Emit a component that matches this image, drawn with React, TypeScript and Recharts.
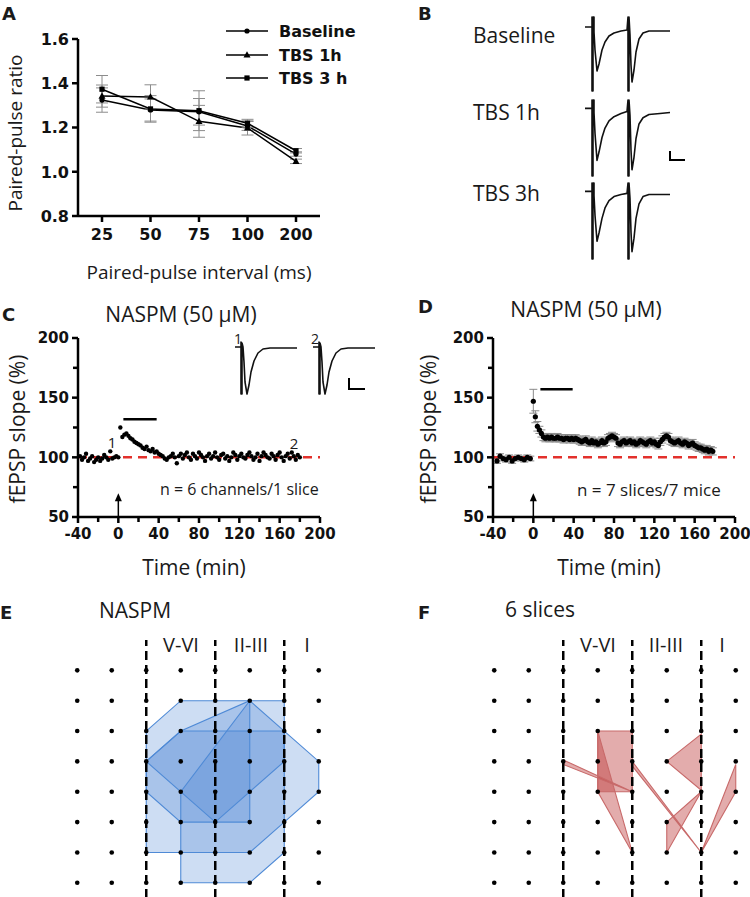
import React from 'react';
import {
  LineChart,
  Line,
  XAxis,
  YAxis,
  ErrorBar,
  ScatterChart,
  Scatter,
  ReferenceLine,
  ReferenceDot,
  ComposedChart,
  Area,
} from 'recharts';

const BOLD = '"DejaVu Sans", Arial, sans-serif';
const REG = '"Open Sans", sans-serif';

// ---- A: paired-pulse ratio
const ppIntervals = ['25', '50', '75', '100', '200'];
const ppBaseline = [1.324, 1.279, 1.271, 1.207, 1.08];
const ppBaselineSem = [0.055, 0.05, 0.06, 0.02, 0.01];
const ppTbs1h = [1.342, 1.338, 1.228, 1.198, 1.047];
const ppTbs1hSem = [0.05, 0.055, 0.072, 0.032, 0.01];
const ppTbs3h = [1.373, 1.284, 1.276, 1.219, 1.095];
const ppTbs3hSem = [0.062, 0.06, 0.09, 0.018, 0.01];
const ppTicks = [0.8, 1.0, 1.2, 1.4, 1.6];

// ---- B: example traces [time, amplitude]
const baselineTrace: [number, number][] = [
  [0, 3], [7, 3], [7, 13], [7, -61], [8, -61], [8, 13], [9, 13], [9, -2], [10, -20], [12, -41],
  [14, -34], [17, -20], [20, -12], [24, -6], [29, -3], [36, -1], [42, 0], [43, 13], [43, -61],
  [44, -61], [44, 13], [45, -5], [46, -35], [47, -52], [49, -40], [51, -22], [54, -9], [58, -3],
  [64, -1], [85, -1],
];
const tbs1hTrace: [number, number][] = [
  [0, 2], [7, 2], [7, 10], [7, -63], [8, -63], [8, 10], [9, 10], [9, -2], [10, -22], [12, -48],
  [14, -40], [17, -26], [20, -17], [24, -10], [29, -6], [36, -3], [42, -1], [43, 10], [43, -63],
  [44, -63], [44, 10], [45, -5], [46, -38], [47, -57], [49, -45], [51, -27], [54, -13], [58, -7],
  [64, -4], [75, -3], [85, -2],
];
const tbs3hTrace: [number, number][] = [
  [0, 2], [7, 2], [7, 10], [7, -63], [8, -63], [8, 10], [9, 10], [9, -2], [10, -21], [12, -46],
  [14, -38], [17, -24], [20, -14], [24, -7], [29, -3], [36, -1], [42, 0], [43, 10], [43, -63],
  [44, -63], [44, 10], [45, -5], [46, -37], [47, -56], [49, -43], [51, -24], [54, -10], [58, -3],
  [64, -1], [85, -1],
];
// inset traces in C (1 = before, 2 = after)
const insetTrace: [number, number][] = [
  [0, 0], [6, 0], [6, 5], [6, -47], [7, -47], [7, 4], [8, 0], [9, -15], [10, -35], [12, -47],
  [14, -38], [16, -25], [19, -14], [23, -6], [28, -2], [35, -1], [62, -1],
];

// ---- C: single slice, fEPSP slope (%) every 2 min
const cStepMin = 2;
const cPreStart = -38;
const cPreSlope = [101, 98, 100, 103, 97, 99, 101, 96, 98, 100, 97, 99, 102, 100, 98, 105, 99, 100, 101, 100];
const cPostStart = 2;
const cPostSlope = [
  125, 117, 119, 120, 118, 116, 115, 113, 112, 111,
  110, 108, 107, 109, 106, 105, 107, 104, 105, 103,
  102, 101, 99, 98, 100, 101, 103, 100, 95, 101,
  103, 99, 102, 104, 100, 98, 103, 101, 99, 104,
  102, 100, 97, 101, 103, 99, 101, 104, 100, 98,
  102, 103, 99, 101, 97, 100, 104, 102, 98, 101,
  103, 100, 99, 102, 104, 101, 98, 100, 103, 97,
  101, 104, 102, 100, 99, 103, 101, 98, 102, 104,
  100, 97, 101, 103, 99, 104, 101, 98, 102, 100,
];

// ---- D: 7 slices, mean +/- sem
const dPreTimes = [-36, -33, -30, -27, -24, -21, -18, -15, -12, -9, -6, -3];
const dPreSlope = [97, 101, 99, 98, 100, 97, 99, 100, 99, 98, 100, 99];
const dPreSem = 2;
const dStepMin = 2;
const dPostSlope = [
  147, 134, 126, 123, 120, 117, 116, 117, 116, 117,
  116, 116, 117, 116, 116, 115, 116, 116, 115, 116,
  115, 116, 115, 114, 113, 114, 115, 113, 112, 114,
  112, 113, 111, 112, 114, 112, 113, 116, 117, 118,
  117, 116, 112, 111, 113, 114, 112, 113, 114, 112,
  113, 111, 112, 114, 113, 112, 111, 113, 114, 112,
  113, 111, 110, 113, 115, 117, 118, 117, 114, 113,
  112, 113, 114, 112, 111, 113, 112, 110, 111, 112,
  110, 109, 108, 108, 107, 106, 107, 105, 106, 105,
];
const dPostSemHead = [10, 5, 4];
const dPostSem = 3;

const timeTicks = [-40, -20, 0, 20, 40, 60, 80, 100, 120, 140, 160, 180, 200];
const timeLabels = [-40, 0, 40, 80, 120, 160, 200];
const slopeTicks = [50, 75, 100, 125, 150, 175, 200];
const slopeLabels = [50, 100, 150, 200];

// ---- E / F: electrode grid (col, row) and response areas
const gridCols = [0, 1, 2, 3, 4, 5, 6, 7];
const gridRows = [0, 1, 2, 3, 4, 5, 6, 7];
const layerBorders = [2, 4, 6];
const naspmAreas: [number, number][][] = [
  [[2, 2], [3, 1], [5, 1], [6, 2], [7, 3], [7, 4], [6, 5], [5, 6], [2, 6]],
  [[3, 4], [5, 1], [6, 1], [6, 6], [5, 7], [3, 7]],
  [[2, 3], [3, 2], [6, 2], [6, 3], [4, 5]],
  [[2, 3], [3, 2], [5, 1], [5, 5], [3, 5], [2, 4]],
];
const sliceAreas: [number, number][][] = [
  [[3, 2], [4, 2], [4, 4], [3, 4]],
  [[3, 2], [4, 6], [3, 4]],
  [[2, 2.95], [4, 4], [2, 3.1]],
  [[5, 3], [6, 2.1], [6, 3.95]],
  [[4, 3], [6, 6], [4, 3.15]],
  [[5, 5], [6, 4], [5, 6]],
  [[6, 6], [7, 3.1], [7, 4]],
];

const axisStyle = { stroke: '#000', strokeWidth: 2.5 };

function makeYTick(labels: number[], size: number, fmt: (v: number) => string) {
  return (props: any) => {
    const { x, y, payload } = props;
    const major = labels.includes(payload.value);
    return (
      <g>
        <line x1={x - (major ? 6 : 5)} x2={x} y1={y} y2={y} stroke="#000" strokeWidth={2.5} />
        {major && (
          <text x={x - 9} y={y} dy="0.36em" textAnchor="end" fontFamily={BOLD} fontWeight={700} fontSize={size} fill="#111">
            {fmt(payload.value)}
          </text>
        )}
      </g>
    );
  };
}

function makeXTick(labels: (number | string)[] | null, size: number, base: number) {
  return (props: any) => {
    const { x, y, payload } = props;
    const major = labels === null || labels.includes(payload.value);
    return (
      <g>
        <line x1={x} x2={x} y1={y} y2={y + (major ? 6 : 5)} stroke="#000" strokeWidth={2.5} />
        {major && (
          <text x={x} y={y + base} textAnchor="middle" fontFamily={BOLD} fontWeight={700} fontSize={size} fill="#111">
            {payload.value}
          </text>
        )}
      </g>
    );
  };
}

type MarkerKind = 'circle' | 'triangle' | 'square';
const Marker = ({ kind, cx, cy }: { kind: MarkerKind; cx: number; cy: number }) => {
  if (kind === 'circle') return <circle cx={cx} cy={cy} r={2.6} fill="#000" />;
  if (kind === 'triangle')
    return <path d={`M${cx},${cy - 3.8} L${cx + 3.5},${cy + 2.6} L${cx - 3.5},${cy + 2.6} Z`} fill="#000" />;
  return <rect x={cx - 2.6} y={cy - 2.6} width={5.2} height={5.2} fill="#000" />;
};

type TxtProps = {
  x: number;
  y: number;
  size: number;
  bold?: boolean;
  center?: boolean;
  rotate?: boolean;
  children: React.ReactNode;
};
const Txt = ({ x, y, size, bold, center, rotate, children }: TxtProps) => (
  <div
    style={{
      position: 'absolute',
      left: x,
      top: y,
      fontFamily: bold ? BOLD : REG,
      fontWeight: bold ? 700 : 400,
      fontSize: size,
      lineHeight: 1,
      whiteSpace: 'nowrap',
      color: '#1a1a1a',
      transform: `translate(${center || rotate ? '-50%' : '0'}, -50%)${rotate ? ' rotate(-90deg)' : ''}`,
    }}
  >
    {children}
  </div>
);

const ScaleBar = ({ x, y, w, h }: { x: number; y: number; w: number; h: number }) => (
  <div
    style={{
      position: 'absolute',
      left: x,
      top: y,
      width: w,
      height: h,
      borderLeft: '2px solid #000',
      borderBottom: '2px solid #000',
    }}
  />
);

function Trace({ points, left, top, width, height, xMax, yMin, yMax }: any) {
  const data = (points as [number, number][]).map(([t, v]) => ({ t, v }));
  return (
    <div style={{ position: 'absolute', left: left - 2, top: top - 2 }}>
      <LineChart width={width + 4} height={height + 4} data={data} margin={{ top: 2, right: 2, bottom: 2, left: 2 }}>
        <XAxis type="number" dataKey="t" domain={[0, xMax]} hide />
        <YAxis type="number" domain={[yMin, yMax]} hide />
        <Line
          type="linear"
          dataKey="v"
          stroke="#111"
          strokeWidth={1.6}
          strokeLinejoin="round"
          dot={false}
          isAnimationActive={false}
        />
      </LineChart>
    </div>
  );
}

// vertical slices [top,bottom] of a convex polygon at each vertex column
function toSlices(poly: [number, number][]) {
  const xs = Array.from(new Set(poly.map((p) => p[0]))).sort((a, b) => a - b);
  return xs.map((x) => {
    const ys: number[] = [];
    poly.forEach((a, i) => {
      const b = poly[(i + 1) % poly.length];
      if (a[0] === b[0]) {
        if (a[0] === x) ys.push(a[1], b[1]);
      } else if ((x - a[0]) * (x - b[0]) <= 0) {
        ys.push(a[1] + ((b[1] - a[1]) * (x - a[0])) / (b[0] - a[0]));
      }
    });
    return { col: x, range: [Math.min(...ys), Math.max(...ys)] };
  });
}

function GridMap({ areas, left, fill, fillOpacity, stroke }: any) {
  const grid = gridRows.flatMap((row) => gridCols.map((col) => ({ col, row })));
  return (
    <div style={{ position: 'absolute', left, top: 640 }}>
      <ComposedChart width={276} height={258} margin={{ top: 0, right: 0, bottom: 0, left: 0 }}>
        <XAxis type="number" dataKey="col" domain={[-0.5, 7.5]} allowDataOverflow hide />
        <YAxis type="number" dataKey="row" domain={[-1, 7.5]} reversed allowDataOverflow hide />
        {(areas as [number, number][][]).map((poly, i) => (
          <Area
            key={`a${i}`}
            data={toSlices(poly)}
            dataKey="range"
            type="linear"
            fill={fill}
            fillOpacity={fillOpacity}
            stroke="none"
            isAnimationActive={false}
          />
        ))}
        {(areas as [number, number][][]).map((poly, i) => (
          <Line
            key={`l${i}`}
            data={poly.concat([poly[0]]).map(([col, row]) => ({ col, row }))}
            dataKey="row"
            type="linear"
            stroke={stroke}
            strokeWidth={1.1}
            dot={false}
            isAnimationActive={false}
          />
        ))}
        {layerBorders.map((c) => (
          <ReferenceLine key={c} x={c} stroke="#000" strokeWidth={2.5} strokeDasharray="9 5" />
        ))}
        <Scatter
          data={grid}
          isAnimationActive={false}
          shape={(p: any) => <circle cx={p.cx} cy={p.cy} r={2.3} fill="#000" />}
        />
      </ComposedChart>
    </div>
  );
}

const arrowHead = (p: any) => (
  <path d={`M${p.cx - 3.5},${p.cy + 8} L${p.cx},${p.cy} L${p.cx + 3.5},${p.cy + 8} Z`} fill="#000" />
);

const slopeTick = makeYTick(slopeLabels, 15, (v) => String(v));
const timeTick = makeXTick(timeLabels, 15, 22);

function TimeCourse({ left, data, dotR, withSem, bar }: any) {
  return (
    <div style={{ position: 'absolute', left, top: 318 }}>
      <ScatterChart width={340} height={240} margin={{ top: 20, right: 20, bottom: 11, left: 18 }}>
        <XAxis
          type="number"
          dataKey="t"
          domain={[-40, 200]}
          ticks={timeTicks}
          interval={0}
          tickSize={0}
          tickMargin={0}
          tickLine={false}
          axisLine={axisStyle}
          tick={timeTick}
          height={30}
        />
        <YAxis
          type="number"
          dataKey="slope"
          domain={[50, 200]}
          ticks={slopeTicks}
          interval={0}
          tickSize={0}
          tickMargin={0}
          tickLine={false}
          axisLine={axisStyle}
          tick={slopeTick}
          width={60}
        />
        <ReferenceLine segment={[{ x: 0, y: 50 }, { x: 0, y: 66 }]} stroke="#000" strokeWidth={1.5} />
        <ReferenceDot x={0} y={70} r={0} shape={arrowHead} />
        <ReferenceLine segment={bar} stroke="#000" strokeWidth={2.5} />
        <Scatter
          data={data}
          isAnimationActive={false}
          shape={(p: any) => <circle cx={p.cx} cy={p.cy} r={dotR} fill="#000" />}
        >
          {withSem && <ErrorBar dataKey="sem" direction="y" width={4} stroke="#8a8a8a" strokeWidth={1} />}
        </Scatter>
        <ReferenceLine y={100} stroke="#e3312c" strokeWidth={2.5} strokeDasharray="9 6" />
      </ScatterChart>
    </div>
  );
}

const legendRows: { label: string; kind: MarkerKind; y: number }[] = [
  { label: 'Baseline', kind: 'circle', y: 31 },
  { label: 'TBS 1h', kind: 'triangle', y: 55 },
  { label: 'TBS 3 h', kind: 'square', y: 78 },
];

export default function App() {
  const ppData = ppIntervals.map((interval, i) => ({
    interval,
    baseline: ppBaseline[i],
    baselineSem: ppBaselineSem[i],
    tbs1h: ppTbs1h[i],
    tbs1hSem: ppTbs1hSem[i],
    tbs3h: ppTbs3h[i],
    tbs3hSem: ppTbs3hSem[i],
  }));

  const cData = [
    ...cPreSlope.map((slope, i) => ({ t: cPreStart + i * cStepMin, slope })),
    ...cPostSlope.map((slope, i) => ({ t: cPostStart + i * cStepMin, slope })),
  ];
  const dData = [
    ...dPreSlope.map((slope, i) => ({ t: dPreTimes[i], slope, sem: dPreSem })),
    ...dPostSlope.map((slope, i) => ({
      t: i * dStepMin,
      slope,
      sem: i < dPostSemHead.length ? dPostSemHead[i] : dPostSem,
    })),
  ];

  const series: { key: string; kind: MarkerKind }[] = [
    { key: 'baseline', kind: 'circle' },
    { key: 'tbs1h', kind: 'triangle' },
    { key: 'tbs3h', kind: 'square' },
  ];

  return (
    <div style={{ position: 'absolute', left: 0, top: 0, width: 750, height: 897, background: '#fff', overflow: 'hidden' }}>
      {/* panel letters */}
      <Txt x={2} y={14} size={18} bold>A</Txt>
      <Txt x={418} y={14} size={18} bold>B</Txt>
      <Txt x={2} y={315} size={18} bold>C</Txt>
      <Txt x={418} y={307} size={18} bold>D</Txt>
      <Txt x={0} y={613} size={18} bold>E</Txt>
      <Txt x={418} y={613} size={18} bold>F</Txt>

      {/* A */}
      <div style={{ position: 'absolute', left: 0, top: 0 }}>
        <LineChart width={340} height={260} data={ppData} margin={{ top: 39, right: 20, bottom: 14, left: 18 }}>
          <XAxis
            dataKey="interval"
            padding={{ left: 24, right: 24 }}
            interval={0}
            tickSize={0}
            tickMargin={0}
            tickLine={false}
            axisLine={axisStyle}
            tick={makeXTick(null, 16, 24)}
            height={30}
          />
          <YAxis
            type="number"
            domain={[0.8, 1.6]}
            ticks={ppTicks}
            interval={0}
            tickSize={0}
            tickMargin={0}
            tickLine={false}
            axisLine={axisStyle}
            tick={makeYTick(ppTicks, 16, (v) => v.toFixed(1))}
            width={60}
          />
          {series.map((s) => (
            <Line
              key={s.key}
              dataKey={s.key}
              type="linear"
              stroke="#000"
              strokeWidth={1.5}
              isAnimationActive={false}
              dot={(p: any) => <Marker key={`${s.key}${p.index}`} kind={s.kind} cx={p.cx} cy={p.cy} />}
            >
              <ErrorBar dataKey={`${s.key}Sem`} direction="y" width={6} stroke="#8c8c8c" strokeWidth={1} />
            </Line>
          ))}
        </LineChart>
      </div>
      {legendRows.map((r) => (
        <div key={r.label} style={{ position: 'absolute', left: 226, top: r.y - 10, height: 20, display: 'flex', alignItems: 'center' }}>
          <svg width={42} height={20}>
            <line x1={0} x2={42} y1={10} y2={10} stroke="#000" strokeWidth={1.5} />
            <Marker kind={r.kind} cx={21} cy={10} />
          </svg>
          <span style={{ marginLeft: 11, fontFamily: BOLD, fontWeight: 700, fontSize: 16, color: '#111' }}>{r.label}</span>
        </div>
      ))}
      <Txt x={15} y={133} size={19} rotate>Paired-pulse ratio</Txt>
      <Txt x={199} y={272} size={19} center>Paired-pulse interval (ms)</Txt>

      {/* B */}
      <Txt x={473} y={35} size={21}>Baseline</Txt>
      <Txt x={473} y={112} size={21}>TBS 1h</Txt>
      <Txt x={473} y={193} size={21}>TBS 3h</Txt>
      <Trace points={baselineTrace} left={585} top={17} width={85} height={76} xMax={85} yMin={-63} yMax={13} />
      <Trace points={tbs1hTrace} left={585} top={100} width={85} height={76} xMax={85} yMin={-63} yMax={10} />
      <Trace points={tbs3hTrace} left={585} top={183} width={85} height={76} xMax={85} yMin={-63} yMax={10} />
      <ScaleBar x={669} y={151} w={14} h={8} />

      {/* C */}
      <Txt x={181} y={314} size={21} center>NASPM (50 µM)</Txt>
      <TimeCourse left={0} data={cData} dotR={2.2} withSem={false} bar={[{ x: 5, y: 132 }, { x: 38, y: 132 }]} />
      <Txt x={17} y={429} size={21} rotate>fEPSP slope (%)</Txt>
      <Txt x={194} y={567} size={21} center>Time (min)</Txt>
      <Txt x={112} y={442} size={15} center>1</Txt>
      <Txt x={294} y={443} size={15} center>2</Txt>
      <Txt x={160} y={489} size={16}>n = 6 channels/1 slice</Txt>
      <Trace points={insetTrace} left={235} top={342} width={62} height={52} xMax={62} yMin={-47} yMax={5} />
      <Trace points={insetTrace} left={313} top={342} width={62} height={52} xMax={62} yMin={-47} yMax={5} />
      <Txt x={238} y={339} size={14} center>1</Txt>
      <Txt x={315} y={339} size={14} center>2</Txt>
      <ScaleBar x={348} y={378} w={15} h={10} />

      {/* D */}
      <Txt x={586} y={309} size={21} center>NASPM (50 µM)</Txt>
      <TimeCourse left={415} data={dData} dotR={2.6} withSem bar={[{ x: 7, y: 157 }, { x: 39, y: 157 }]} />
      <Txt x={428} y={429} size={21} rotate>fEPSP slope (%)</Txt>
      <Txt x={609} y={567} size={21} center>Time (min)</Txt>
      <Txt x={577} y={489} size={17}>n = 7 slices/7 mice</Txt>

      {/* E */}
      <Txt x={99} y={610} size={21}>NASPM</Txt>
      <GridMap areas={naspmAreas} left={60} fill="#4a86d4" fillOpacity={0.28} stroke="#4f8ad6" />
      <Txt x={181} y={645} size={20} center>V-VI</Txt>
      <Txt x={251} y={645} size={20} center>II-III</Txt>
      <Txt x={307} y={645} size={20} center>I</Txt>

      {/* F */}
      <Txt x={505} y={609} size={21}>6 slices</Txt>
      <GridMap areas={sliceAreas} left={477} fill="#b93030" fillOpacity={0.4} stroke="#c86a6a" />
      <Txt x={598} y={645} size={20} center>V-VI</Txt>
      <Txt x={666} y={645} size={20} center>II-III</Txt>
      <Txt x={722} y={645} size={20} center>I</Txt>
    </div>
  );
}
